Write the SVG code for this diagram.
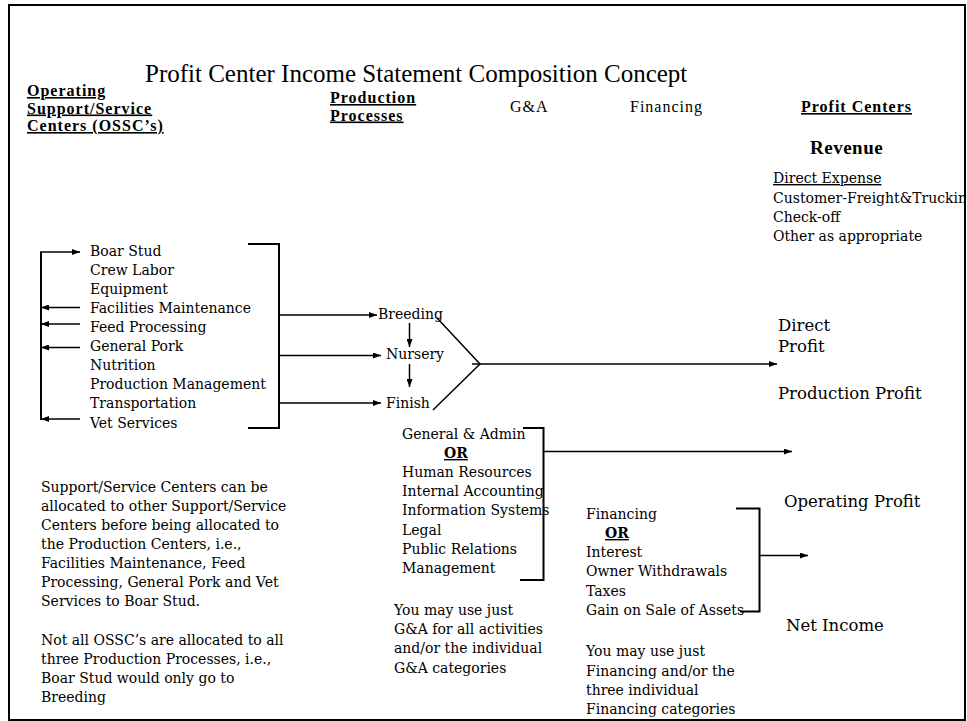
<svg xmlns="http://www.w3.org/2000/svg" width="967" height="721" viewBox="0 0 967 721">
<defs>
<style>
.t{font-family:"DejaVu Serif","Liberation Serif",serif;font-size:14px;fill:#000}
.b{font-size:16.5px}
.h{font-family:"Liberation Serif",serif;font-size:16px;letter-spacing:1px;fill:#000}
.hb{font-weight:bold;text-decoration:underline}
.u{text-decoration:underline}
.or{font-weight:bold;text-decoration:underline}
.ln{stroke:#000;stroke-width:1.5;fill:none}
.br{stroke:#000;stroke-width:2;fill:none}
</style>
<marker id="ah" markerWidth="8" markerHeight="6" refX="8" refY="3" orient="auto" markerUnits="userSpaceOnUse"><path d="M0,0 L8,3 L0,6 z" fill="#000"/></marker>
<clipPath id="frameClip"><rect x="9" y="5" width="955" height="714"/></clipPath>
</defs>
<rect x="0" y="0" width="967" height="721" fill="#fff"/>
<rect x="9" y="5" width="956" height="715" fill="none" stroke="#000" stroke-width="2"/>

<g id="title"><text x="145" y="82" style="font-family:'Liberation Serif',serif;font-size:25px;fill:#000">Profit Center Income Statement Composition Concept</text></g>

<g id="hdr-ossc"><text class="h hb"><tspan x="27" y="96">Operating</tspan><tspan x="27" y="113.5">Support/Service</tspan><tspan x="27" y="131">Centers (OSSC’s)</tspan></text></g>
<g id="hdr-prod"><text class="h hb"><tspan x="330" y="103">Production</tspan><tspan x="330" y="120.5">Processes</tspan></text></g>
<g id="hdr-ga"><text class="h" x="510" y="112">G&amp;A</text></g>
<g id="hdr-fin"><text class="h" x="630" y="112">Financing</text></g>
<g id="hdr-pc"><text class="h hb" x="801" y="112">Profit Centers</text></g>
<g id="revenue"><text x="810" y="154" style="font-family:'Liberation Serif',serif;font-size:19px;font-weight:bold;letter-spacing:0.5px;fill:#000">Revenue</text></g>

<g id="direct-expense" clip-path="url(#frameClip)"><text class="t">
<tspan x="773" y="183" class="u">Direct Expense</tspan>
<tspan x="773" y="202.5">Customer-Freight&amp;Truckin</tspan>
<tspan x="773" y="221.5">Check-off</tspan>
<tspan x="773" y="240.5">Other as appropriate</tspan></text></g>

<g id="ossc-list"><text class="t">
<tspan x="90" y="256">Boar Stud</tspan>
<tspan x="90" y="275">Crew Labor</tspan>
<tspan x="90" y="294">Equipment</tspan>
<tspan x="90" y="313">Facilities Maintenance</tspan>
<tspan x="90" y="332">Feed Processing</tspan>
<tspan x="90" y="351">General Pork</tspan>
<tspan x="90" y="370">Nutrition</tspan>
<tspan x="90" y="389">Production Management</tspan>
<tspan x="90" y="408">Transportation</tspan>
<tspan x="90" y="427.5">Vet Services</tspan></text></g>

<g id="breeding"><text class="t" x="378" y="319">Breeding</text></g>
<g id="nursery"><text class="t" x="386" y="359">Nursery</text></g>
<g id="finish"><text class="t" x="386" y="408">Finish</text></g>

<g id="direct-profit"><text class="t b"><tspan x="778" y="331">Direct</tspan><tspan x="778" y="352">Profit</tspan></text></g>
<g id="production-profit"><text class="t b" x="778" y="399">Production Profit</text></g>
<g id="operating-profit"><text class="t b" x="784" y="507">Operating Profit</text></g>
<g id="net-income"><text class="t b" x="786" y="631">Net Income</text></g>

<g id="ga-block"><text class="t">
<tspan x="402" y="439">General &amp; Admin</tspan>
<tspan x="444" y="458" class="or">OR</tspan>
<tspan x="402" y="477">Human Resources</tspan>
<tspan x="402" y="496">Internal Accounting</tspan>
<tspan x="402" y="515">Information Systems</tspan>
<tspan x="402" y="534.5">Legal</tspan>
<tspan x="402" y="554">Public Relations</tspan>
<tspan x="402" y="573">Management</tspan></text></g>

<g id="ga-note"><text class="t">
<tspan x="394" y="615">You may use just</tspan>
<tspan x="394" y="634">G&amp;A for all activities</tspan>
<tspan x="394" y="653">and/or the individual</tspan>
<tspan x="394" y="672.5">G&amp;A categories</tspan></text></g>

<g id="fin-block"><text class="t">
<tspan x="586" y="519">Financing</tspan>
<tspan x="605" y="538" class="or">OR</tspan>
<tspan x="586" y="557">Interest</tspan>
<tspan x="586" y="576">Owner Withdrawals</tspan>
<tspan x="586" y="596">Taxes</tspan>
<tspan x="586" y="615">Gain on Sale of Assets</tspan></text></g>

<g id="fin-note"><text class="t">
<tspan x="586" y="656">You may use just</tspan>
<tspan x="586" y="676">Financing and/or the</tspan>
<tspan x="586" y="695">three individual</tspan>
<tspan x="586" y="713.5">Financing categories</tspan></text></g>

<g id="note-support"><text class="t">
<tspan x="41" y="491.5">Support/Service Centers can be</tspan>
<tspan x="41" y="510.5">allocated to other Support/Service</tspan>
<tspan x="41" y="529.5">Centers before being allocated to</tspan>
<tspan x="41" y="548.5">the Production Centers, i.e.,</tspan>
<tspan x="41" y="567.5">Facilities Maintenance, Feed</tspan>
<tspan x="41" y="587">Processing, General Pork and Vet</tspan>
<tspan x="41" y="606">Services to Boar Stud.</tspan>
<tspan x="41" y="645">Not all OSSC’s are allocated to all</tspan>
<tspan x="41" y="664">three Production Processes, i.e.,</tspan>
<tspan x="41" y="683">Boar Stud would only go to</tspan>
<tspan x="41" y="702">Breeding</tspan></text></g>

<g id="connectors">
<path class="br" d="M41,420 V252"/>
<path class="ln" d="M40,252 H80" marker-end="url(#ah)"/>
<path class="ln" d="M80,307.5 H41" marker-end="url(#ah)"/>
<path class="ln" d="M80,324 H41" marker-end="url(#ah)"/>
<path class="ln" d="M80,347.5 H41" marker-end="url(#ah)"/>
<path class="ln" d="M80,419 H41" marker-end="url(#ah)"/>
<path class="br" d="M248,244 H279 V428 H248"/>
<path class="ln" d="M279,315 H377" marker-end="url(#ah)"/>
<path class="ln" d="M279,355.5 H381" marker-end="url(#ah)"/>
<path class="ln" d="M279,403 H381" marker-end="url(#ah)"/>
<path class="ln" d="M409.5,323 V347" marker-end="url(#ah)"/>
<path class="ln" d="M409.5,364 V387" marker-end="url(#ah)"/>
<path class="ln" d="M437,318 L480,364 L433,410"/>
<path class="ln" d="M472,364 H777" marker-end="url(#ah)"/>
<path class="br" d="M523,428 H543.5 V580 H520"/>
<path class="ln" d="M543,451.5 H792" marker-end="url(#ah)"/>
<path class="br" d="M736,508.5 H759.5 V611.5 H740"/>
<path class="ln" d="M759,555.5 H808" marker-end="url(#ah)"/>
</g>
</svg>
